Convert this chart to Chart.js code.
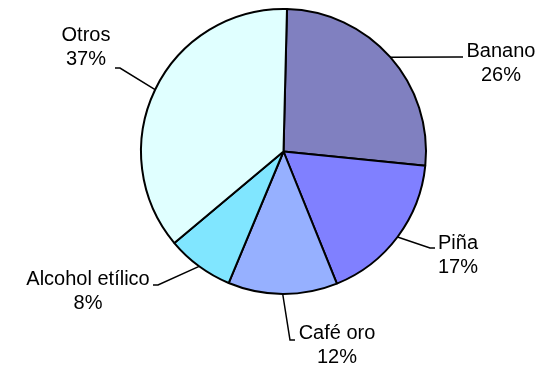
<!DOCTYPE html>
<html>
<head>
<meta charset="utf-8">
<script src="https://cdn.jsdelivr.net/npm/chart.js@4/dist/chart.umd.min.js"></script>
<style>
    html, body { margin: 0; padding: 0; background: #fff; }
    #wrap { width: 545px; height: 368px; }
</style>
</head>
<body>
<div id="wrap"><canvas id="exportChart" width="545" height="368"></canvas></div>
<script>
const categories = ['Banano', 'Piña', 'Café oro', 'Alcohol etílico', 'Otros'];
const shares = [26.2, 17.3, 12.4, 7.6, 36.5];
const sliceColors = ['#8080c0', '#8080ff', '#96b0ff', '#80e6ff', '#e0ffff'];

// where each label sits (text centre, leader bend, leader end)
const labelSpots = [
    { x: 501, y: 51, bend: [457, 57], end: [463, 57] },
    { x: 458, y: 243, bend: [430, 248], end: [435, 248] },
    { x: 337, y: 333, bend: [290, 340], end: [295, 340] },
    { x: 88, y: 279, bend: [158, 285], end: [153, 285] },
    { x: 86, y: 35, bend: [120, 68], end: [115, 68] }
];

const pieLabels = {
    id: 'pieLabels',
    afterDatasetsDraw(chart) {
        const ctx = chart.ctx;
        const arcs = chart.getDatasetMeta(0).data;
        const total = shares.reduce((a, b) => a + b, 0);
        ctx.save();
        ctx.strokeStyle = '#000';
        ctx.lineWidth = 1.5;
        ctx.fillStyle = '#000';
        ctx.font = '20px "Liberation Sans", Arial, sans-serif';
        ctx.textAlign = 'center';
        ctx.textBaseline = 'middle';
        arcs.forEach((arc, i) => {
            const spot = labelSpots[i];
            const mid = (arc.startAngle + arc.endAngle) / 2;
            const r = arc.outerRadius;
            ctx.beginPath();
            ctx.moveTo(arc.x + Math.cos(mid) * r, arc.y + Math.sin(mid) * r);
            ctx.lineTo(spot.bend[0], spot.bend[1]);
            ctx.lineTo(spot.end[0], spot.end[1]);
            ctx.stroke();
            ctx.fillText(categories[i], spot.x, spot.y);
            ctx.fillText(Math.round(shares[i] / total * 100) + '%', spot.x, spot.y + 24);
        });
        ctx.restore();
    }
};

document.addEventListener("DOMContentLoaded", () => {
    const pieCtx = document.getElementById('exportChart').getContext('2d');
    new Chart(pieCtx, {
        type: 'pie',
        data: {
            labels: categories,
            datasets: [{
                data: shares,
                backgroundColor: sliceColors,
                borderColor: '#000',
                borderWidth: 2,
                hoverOffset: 0
            }]
        },
        options: {
            responsive: false,
            animation: false,
            rotation: 1.4,
            layout: { padding: { left: 140, right: 118, top: 8, bottom: 73 } },
            plugins: {
                legend: { display: false },
                tooltip: { enabled: false }
            }
        },
        plugins: [pieLabels]
    });
});
</script>
</body>
</html>
